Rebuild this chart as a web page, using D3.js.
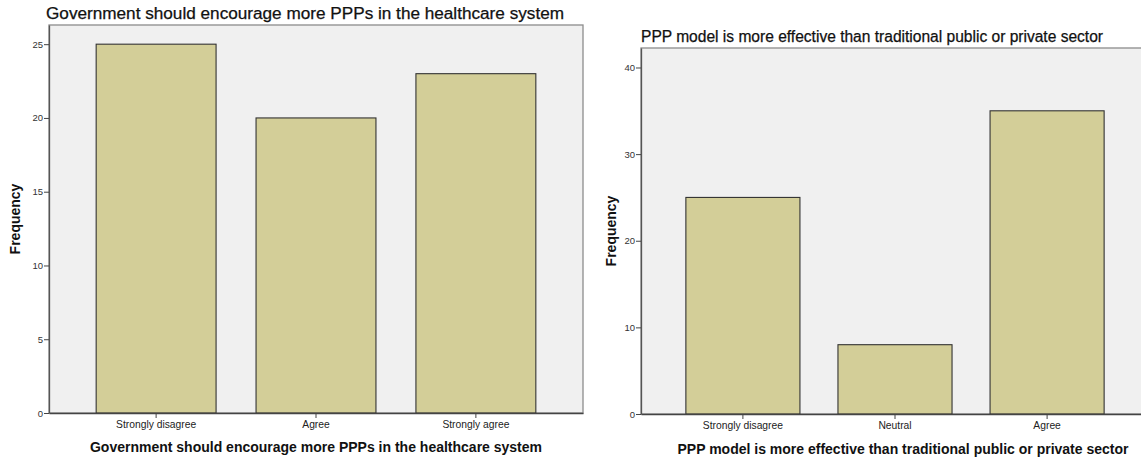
<!DOCTYPE html>
<html>
<head>
<meta charset="utf-8">
<script src="https://cdn.jsdelivr.net/npm/d3@7"></script>
<style>
  html, body { margin: 0; padding: 0; background: #fff; }
  svg { display: block; }
  text { font-family: "Liberation Sans", Arial, sans-serif; }
</style>
</head>
<body>
<svg id="chart" width="1141" height="459"></svg>
<script>
// ---- data ----
const titles = [
  "Government should encourage more PPPs in the healthcare system",
  "PPP model is more effective than traditional public or private sector"
];
const categories1 = ["Strongly disagree", "Agree", "Strongly agree"];
const values1 = [25, 20, 23];
const ticks1 = [0, 5, 10, 15, 20, 25];

const categories2 = ["Strongly disagree", "Neutral", "Agree"];
const values2 = [25, 8, 35];
const ticks2 = [0, 10, 20, 30, 40];

const yLabel = "Frequency";

// ---- drawing ----
const svg = d3.select("#chart");

function drawPanel(cfg) {
  const g = svg.append("g");
  const x = d3.scaleBand().domain(cfg.cats)
    .range([cfg.left, cfg.right]).paddingInner(0.25).paddingOuter(0.295);
  const y = d3.scaleLinear().domain([0, cfg.yMax]).range([cfg.bottom, cfg.top]);

  // background frame
  g.append("rect")
    .attr("x", cfg.left).attr("y", cfg.top)
    .attr("width", cfg.right - cfg.left).attr("height", cfg.bottom - cfg.top)
    .attr("fill", "#f0f0f0").attr("stroke", "#8c8c8c").attr("stroke-width", 1.3);

  // bars
  g.selectAll("rect.bar").data(cfg.vals).join("rect")
    .attr("class", "bar")
    .attr("x", (d, i) => x(cfg.cats[i]))
    .attr("y", d => y(d))
    .attr("width", x.bandwidth())
    .attr("height", d => y(0) - y(d))
    .attr("fill", "#d3ce98").attr("stroke", "#333").attr("stroke-width", 1.1);

  // y axis
  const ya = g.append("g").attr("transform", `translate(${cfg.left},0)`)
    .call(d3.axisLeft(y).tickValues(cfg.ticks).tickSize(5).tickSizeOuter(0).tickPadding(1));
  ya.select(".domain").attr("stroke", "#555").attr("stroke-width", 1.3);
  ya.selectAll(".tick line").attr("stroke", "#444");
  ya.selectAll(".tick text").attr("fill", "#333").style("font-size", "9.5px")
    .style("font-family", "'Liberation Sans', Arial, sans-serif");

  // x axis
  const xa = g.append("g").attr("transform", `translate(0,${cfg.bottom})`)
    .call(d3.axisBottom(x).tickSize(5).tickSizeOuter(0).tickPadding(3));
  xa.select(".domain").attr("stroke", "#444").attr("stroke-width", 1.3);
  xa.selectAll(".tick line").attr("stroke", "#444");
  xa.selectAll(".tick text").attr("fill", "#222").style("font-size", "10.3px")
    .style("font-family", "'Liberation Sans', Arial, sans-serif");

  // title
  g.append("text").attr("x", cfg.titleX).attr("y", cfg.titleY)
    .style("font-size", "16px").attr("fill", "#111")
    .attr("stroke", "#111").attr("stroke-width", 0.25)
    .attr("textLength", cfg.titleLen).attr("lengthAdjust", "spacingAndGlyphs")
    .text(cfg.title);

  // x axis title
  g.append("text").attr("x", cfg.xTitleX).attr("y", cfg.xTitleY)
    .attr("text-anchor", "middle").style("font-size", "14px").style("font-weight", "bold")
    .attr("fill", "#111").text(cfg.title);

  // y axis title
  g.append("text")
    .attr("transform", `translate(${cfg.yTitleX},${(cfg.top + cfg.bottom) / 2}) rotate(-90)`)
    .attr("text-anchor", "middle").style("font-size", "14px").style("font-weight", "bold")
    .attr("fill", "#111").text(yLabel);
}

drawPanel({
  cats: categories1, vals: values1, ticks: ticks1, title: titles[0],
  left: 49, right: 583, top: 25, bottom: 413, yMax: 26.3,
  titleX: 46, titleY: 19, titleLen: 518, xTitleX: 316, xTitleY: 452, yTitleX: 20
});

drawPanel({
  cats: categories2, vals: values2, ticks: ticks2, title: titles[1],
  left: 641, right: 1149, top: 48, bottom: 414, yMax: 42.25,
  titleX: 641, titleY: 42, titleLen: 462, xTitleX: 903, xTitleY: 454, yTitleX: 616
});
</script>
</body>
</html>
